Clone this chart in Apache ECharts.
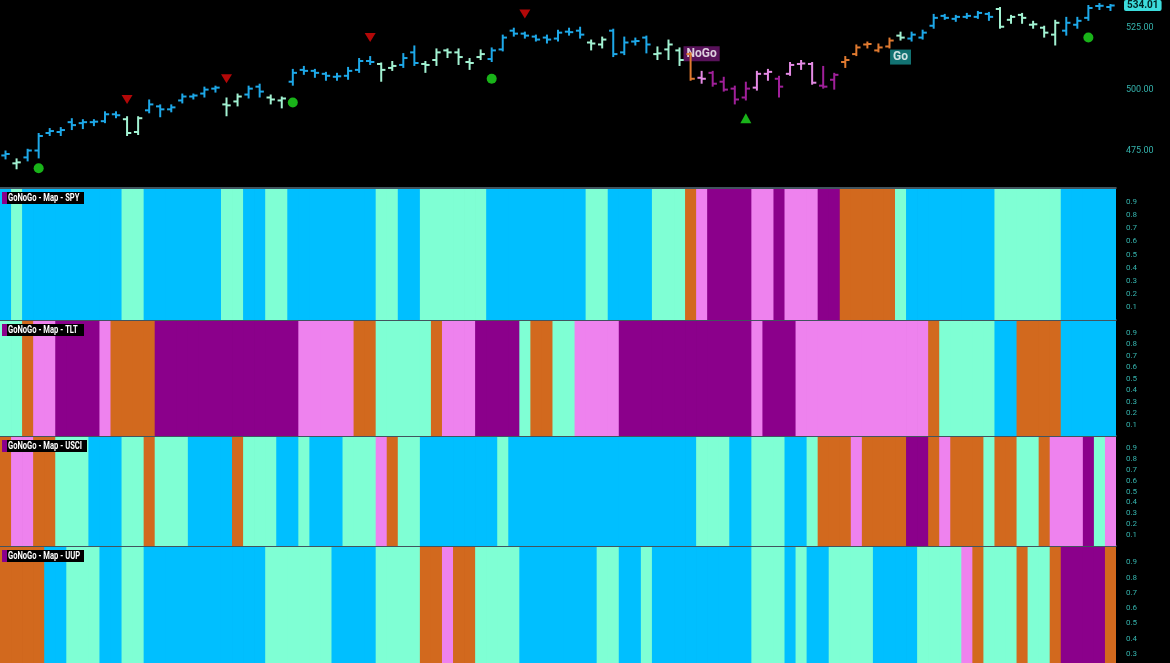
<!DOCTYPE html>
<html><head><meta charset="utf-8">
<script src="https://cdn.jsdelivr.net/npm/echarts@6/dist/echarts.min.js"></script>
<style>html,body{margin:0;padding:0;background:#000;}#c{width:1170px;height:663px;}</style>
</head><body><div id="c"></div>
<script>
// ---- SPY daily OHLC ----
const opens = [473.2,470.0,472.4,475.2,482.3,482.7,486.7,486.3,486.7,487.1,
489.9,487.9,482.7,491.5,493.1,491.9,495.5,497.1,498.3,500.3,
493.9,495.1,497.9,501.1,496.7,495.5,503.1,507.9,507.5,506.3,
505.1,505.5,507.9,511.5,510.3,508.7,509.9,515.0,510.3,511.9,
515.8,515.0,511.1,513.1,512.3,516.2,523.8,522.6,521.4,521.0,
520.6,523.4,523.8,519.0,518.2,523.8,515.0,519.4,521.0,514.3,
516.2,515.8,514.3,504.7,506.7,503.1,500.3,496.7,500.7,506.3,
504.3,506.3,510.3,510.3,501.5,503.9,511.1,514.3,518.2,515.8,
517.4,521.8,520.6,521.0,525.8,529.8,528.6,529.4,529.4,530.6,
532.6,528.2,530.2,526.2,525.0,522.2,523.8,526.2,529.0,533.8,533.4];
const highs = [474.8,471.6,475.5,481.9,483.9,484.3,487.9,487.5,487.5,490.7,
490.7,488.7,488.7,495.5,493.5,493.5,497.9,497.9,500.7,501.1,
496.3,497.9,501.1,501.9,497.5,496.7,507.9,509.1,507.9,506.7,
506.3,508.7,512.3,513.1,510.5,511.1,514.3,517.4,511.1,516.2,
516.2,516.2,512.3,515.8,516.6,521.8,524.6,523.0,521.8,521.8,
523.8,524.6,525.0,519.8,521.0,524.2,521.0,520.6,521.4,517.0,
519.8,516.6,514.6,507.1,507.1,504.7,501.1,502.7,507.1,507.9,
505.1,510.7,511.5,510.7,509.1,506.3,513.1,517.8,519.0,518.2,
520.6,523.0,523.0,523.8,530.2,530.2,529.8,530.6,531.4,531.0,
533.0,529.8,530.6,527.4,525.4,527.8,529.0,529.0,533.8,534.6,534.2];
const lows = [472.0,468.0,471.2,472.4,481.5,481.5,483.9,484.3,485.5,486.7,
488.7,481.5,481.9,490.7,489.1,491.1,494.7,496.3,497.1,499.1,
489.5,493.5,496.7,497.1,494.3,492.7,501.9,506.3,505.1,503.9,
503.9,504.3,507.1,510.3,503.5,507.9,509.1,509.9,507.1,509.9,
513.1,510.3,508.3,512.3,511.5,515.8,521.8,521.0,519.8,519.0,
519.8,522.2,521.0,516.2,517.0,513.5,514.3,518.2,515.0,512.3,
512.3,509.9,503.9,502.7,501.5,499.5,494.3,495.9,499.9,503.9,
497.1,505.9,508.3,502.3,500.7,500.3,509.1,513.9,517.0,515.4,
517.0,520.2,519.8,520.6,525.0,528.6,527.8,529.0,529.0,528.2,
525.0,527.0,527.0,525.0,521.4,518.2,522.2,525.0,528.2,532.6,532.2];
const closes = [473.8,470.4,475.2,481.1,483.1,483.5,485.5,486.7,486.9,489.9,
489.5,482.3,488.3,493.9,491.9,492.7,497.1,497.5,499.9,500.7,
493.5,497.1,500.3,499.1,495.9,496.3,506.7,507.5,506.7,505.5,
505.3,507.5,511.5,511.1,507.9,509.5,512.7,510.7,509.9,515.0,
515.0,513.1,510.7,514.3,515.8,521.0,522.6,521.8,520.2,520.2,
523.0,523.2,522.2,518.6,520.2,514.3,519.0,519.6,518.2,514.6,
518.2,511.9,504.3,504.3,502.3,499.9,495.9,500.3,506.3,507.1,
501.1,509.9,510.5,502.7,501.1,505.9,511.9,517.0,518.4,517.0,
519.8,521.0,522.2,523.0,529.0,529.0,529.4,529.8,531.0,529.4,
525.4,529.4,529.0,526.4,523.0,527.0,527.0,527.8,533.0,533.9,534.01];

// ---- GoNoGo trend codes per day: B strong Go, L weak Go, O NoGo weak, P NoGo, M strong NoGo ----
const spyMap  = ('BLBBBBBBBB'+'BLLBBBBBBB'+'LLBBLLBBBB'+'BBBBLLBBLL'+'LLLLBBBBBB'+'BBBLLBBBBL'+'LLOPMMMMPP'+'MPPPMMOOOO'+'OLBBBBBBBB'+'LLLLLLBBBBB').split('');
const tltMap  = ('LLOPPMMMMP'+'OOOOMMMMMM'+'MMMMMMMPPP'+'PPOOLLLLLO'+'PPPMMMMLOO'+'LLPPPPMMMM'+'MMMMMMMMPM'+'MMPPPPPPPP'+'PPPPOLLLLL'+'BBOOOOBBBBB').split('');
const usciMap = ('OPPOOLLLBB'+'BLLOLLLBBB'+'BOLLLBBLBB'+'BLLLPOLLBB'+'BBBBBLBBBB'+'BBBBBBBBBB'+'BBBLLLBBLL'+'LBBLOOOPOO'+'OOMMOPOOOL'+'OOLLOPPPMLP').split('');
const uupMap  = ('OOOOBBLLLB'+'BLLBBBBBBB'+'BBBBLLLLLL'+'BBBBLLLLOO'+'POOLLLLBBB'+'BBBBLLBBLB'+'BBBBBBBBLL'+'LBLBBLLLLB'+'BBBLLLLPOL'+'LLOLLOMMMMO').split('');
const mapNames = ['GoNoGo - Map - SPY','GoNoGo - Map - TLT','GoNoGo - Map - USCI','GoNoGo - Map - UUP'];

const priceTicks = [475, 500, 525];
const mapTicks = [0.1, 0.2, 0.3, 0.4, 0.5, 0.6, 0.7, 0.8, 0.9];
const lastPrice = 534.01;
const sellTriangles = [[11,495.9],[20,504.3],[33,521.0],[47,530.6]];
const goDots = [[3,468.0],[26,494.7],[44,504.3],[98,521.0]];
const buyTriangles = [[67,488.3]];
const trendLabels = [{day:62, price:514.4, text:'NoGo'},{day:81, price:513.1, text:'Go'}];

const days = closes.map((_, i) => String(i + 1));

// ---- styling ----
const mapColors = {B:'#00bfff', L:'#7fffd4', O:'#d2691e', P:'#ee82ee', M:'#8b008b'};
const barColors = {B:'#1ea8e8', L:'#a2f2d2', O:'#e07a30', P:'#e48ae4', M:'#a0209a'};
const tickColor = '#35b3ad';
const sepColor = '#58707e';

const grids = [
  {left:-2, right:54, top:0, height:188},
  {left:-2, right:54, top:189, height:131},
  {left:-2, right:54, top:321, height:115},
  {left:-2, right:54, top:437, height:109},
  {left:-2, right:54, top:547, height:116}
];
// visible value range of each map panel (UUP panel is cut by the picture's bottom edge)
const mapMin = [0, 0, 0, 0.24];

function ohlcItem(params, api) {
  const i = api.value(0);
  const o = api.coord([i, api.value(1)]);
  const h = api.coord([i, api.value(2)]);
  const l = api.coord([i, api.value(3)]);
  const c = api.coord([i, api.value(4)]);
  const t = api.size([1, 0])[0] * 0.38;
  const st = {stroke: api.visual('color'), lineWidth: 2, fill: null};
  return {type:'group', children:[
    {type:'line', shape:{x1:h[0], y1:h[1]-1, x2:h[0], y2:l[1]+1}, style:st},
    {type:'line', shape:{x1:o[0]-t, y1:o[1], x2:o[0], y2:o[1]}, style:st},
    {type:'line', shape:{x1:c[0], y1:c[1], x2:c[0]+t, y2:c[1]}, style:st}
  ]};
}
function bandItem(params, api) {
  const i = api.value(0);
  const top = api.coord([i, 1]);
  const bot = api.coord([i, 0]);
  const w = api.size([1, 0])[0];
  return {type:'rect', shape:{x: top[0] - w/2, y: top[1], width: w + 0.8, height: bot[1] - top[1]},
          style:{fill: api.visual('color')}};
}

const xAxes = grids.map((g, k) => ({
  type:'category', gridIndex:k, data:days, boundaryGap:true,
  axisLabel:{show:false}, axisTick:{show:false}, splitLine:{show:false},
  axisLine:{show:k < 4, lineStyle:{color:sepColor, width:1.5}}
}));
const yAxes = [{
  type:'value', gridIndex:0, position:'right', min:460, max:535,
  splitLine:{show:false}, axisLine:{show:false}, axisTick:{show:false},
  axisLabel:{customValues:priceTicks, formatter:v => v.toFixed(2), color:tickColor, fontSize:9, margin:10, fontFamily:'Roboto'}
}];
for (let k = 1; k <= 4; k++) {
  yAxes.push({
    type:'value', gridIndex:k, position:'right', min:mapMin[k-1], max:1,
    splitLine:{show:false}, axisLine:{show:false}, axisTick:{show:false},
    axisLabel:{customValues:mapTicks, formatter:v => v.toFixed(1), color:tickColor, fontSize:8, margin:10, fontFamily:'Roboto'}
  });
}
// last price tag on the price axis
yAxes.push({
  type:'value', gridIndex:0, position:'right', min:460, max:535,
  splitLine:{show:false}, axisLine:{show:false}, axisTick:{show:false},
  axisLabel:{customValues:[lastPrice], formatter:v => v.toFixed(2), color:'#002222', fontWeight:'bold',
    backgroundColor:'#3cdcdc', borderRadius:2, padding:[1,3,0,3], fontSize:10, margin:8, fontFamily:'Roboto'}
});

const series = [{
  type:'custom', xAxisIndex:0, yAxisIndex:0, renderItem:ohlcItem, clip:true, z:7,
  encode:{x:0, y:[1,2,3,4]},
  data: closes.map((c, i) => ({value:[i, opens[i], highs[i], lows[i], c], itemStyle:{color:barColors[spyMap[i]]}}))
}, {
  type:'scatter', xAxisIndex:0, yAxisIndex:0, symbol:'triangle', symbolRotate:180, symbolSize:[11,9],
  itemStyle:{color:'#e00a0a'}, data:sellTriangles, z:5
}, {
  type:'scatter', xAxisIndex:0, yAxisIndex:0, symbol:'circle', symbolSize:10,
  itemStyle:{color:'#1fe01f'}, data:goDots, z:5
}, {
  type:'scatter', xAxisIndex:0, yAxisIndex:0, symbol:'triangle', symbolSize:[11,10],
  itemStyle:{color:'#1fe01f'}, data:buyTriangles, z:5
}, {
  type:'scatter', xAxisIndex:0, yAxisIndex:0, symbolSize:0, z:3,
  data: trendLabels.map(t => ({value:[t.day, t.price], name:t.text,
    label:{show:true, position:'inside', formatter:t.text, color:'#fff', fontWeight:'bold', fontSize:12, fontFamily:'Roboto',
      backgroundColor: t.text === 'Go' ? '#178f8f' : '#6e1670',
      padding:[2,3,1,3], offset: t.text === 'Go' ? [0,0] : [11,0]}}))
}];
[spyMap, tltMap, usciMap, uupMap].forEach((m, k) => {
  series.push({
    type:'custom', xAxisIndex:k+1, yAxisIndex:k+1, renderItem:bandItem, clip:true,
    encode:{x:0, y:1},
    data: m.map((code, i) => ({value:[i, 1], itemStyle:{color:mapColors[code]}}))
  });
});

const labelTops = [192, 324, 440, 550];
const graphic = [];
mapNames.forEach((name, k) => {
  const w = name.length > 18 ? 85 : 82;
  graphic.push({type:'rect', left:2, top:labelTops[k], z:100, shape:{width:w, height:12}, style:{fill:'#000'}});
  graphic.push({type:'rect', left:2, top:labelTops[k], z:101, shape:{width:5, height:12}, style:{fill:'#8b008b'}});
  graphic.push({type:'text', x:8, y:labelTops[k] + 1, scaleX:0.76, z:102,
    style:{text:name, fill:'#fff', font:'bold 10px Roboto, sans-serif'}});
});

const chart = echarts.init(document.getElementById('c'));
chart.setOption({
  backgroundColor:'#000', animation:false,
  grid:grids, xAxis:xAxes, yAxis:yAxes, series:series, graphic:graphic
});
</script></body></html>
